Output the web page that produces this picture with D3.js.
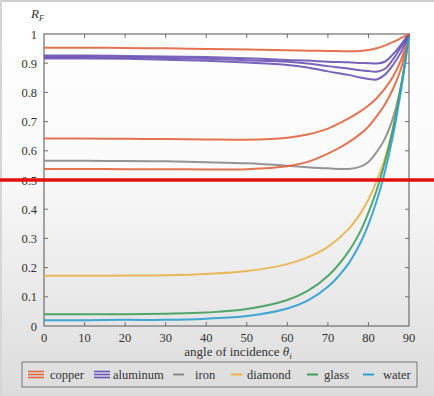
<!DOCTYPE html>
<html>
<head>
<meta charset="utf-8">
<script src="https://cdn.jsdelivr.net/npm/d3@7"></script>
<style>
  body { margin: 0; background: #fff; }
</style>
</head>
<body>
<script>
// angles where I read the curves off the figure
const angles = [0, 10, 20, 30, 40, 50, 60, 65, 70, 75, 78, 80, 82, 84, 86, 88, 89, 90];

// copper (three channels)
const copperR = [0.953, 0.953, 0.952, 0.951, 0.949, 0.947, 0.944, 0.943, 0.942, 0.941, 0.942, 0.945, 0.951, 0.960, 0.972, 0.986, 0.993, 1];
const copperG = [0.642, 0.642, 0.641, 0.640, 0.639, 0.638, 0.645, 0.656, 0.676, 0.710, 0.735, 0.755, 0.780, 0.812, 0.853, 0.910, 0.950, 1];
const copperB = [0.538, 0.538, 0.537, 0.537, 0.536, 0.537, 0.547, 0.562, 0.590, 0.628, 0.658, 0.683, 0.718, 0.758, 0.810, 0.880, 0.935, 1];
// aluminum
const aluminumR = [0.926, 0.926, 0.925, 0.923, 0.921, 0.917, 0.911, 0.909, 0.905, 0.903, 0.901, 0.900, 0.899, 0.905, 0.930, 0.963, 0.982, 1];
const aluminumG = [0.921, 0.921, 0.920, 0.918, 0.915, 0.910, 0.905, 0.899, 0.890, 0.882, 0.876, 0.873, 0.871, 0.880, 0.912, 0.955, 0.977, 1];
const aluminumB = [0.916, 0.916, 0.915, 0.912, 0.908, 0.902, 0.894, 0.885, 0.872, 0.860, 0.851, 0.846, 0.844, 0.860, 0.893, 0.937, 0.967, 1];
// iron
const iron = [0.566, 0.566, 0.565, 0.564, 0.561, 0.557, 0.549, 0.544, 0.540, 0.538, 0.546, 0.562, 0.595, 0.640, 0.710, 0.820, 0.900, 1];
// dielectrics
const diamond = [0.172, 0.172, 0.173, 0.174, 0.178, 0.188, 0.212, 0.235, 0.271, 0.331, 0.385, 0.433, 0.495, 0.572, 0.675, 0.814, 0.900, 1];
const glass = [0.040, 0.040, 0.040, 0.042, 0.046, 0.058, 0.089, 0.120, 0.171, 0.253, 0.324, 0.388, 0.464, 0.557, 0.672, 0.819, 0.904, 1];
const water = [0.020, 0.020, 0.021, 0.021, 0.025, 0.034, 0.060, 0.087, 0.134, 0.212, 0.284, 0.348, 0.427, 0.525, 0.648, 0.804, 0.896, 1];

const xTicks = [0, 10, 20, 30, 40, 50, 60, 70, 80, 90];
const yTicks = [0, 0.1, 0.2, 0.3, 0.4, 0.5, 0.6, 0.7, 0.8, 0.9, 1];
const legendNames = ["copper", "aluminum", "iron", "diamond", "glass", "water"];

const colors = {
  copper: "#e2643f",
  aluminum: "#6a52b4",
  iron: "#8a8a8a",
  diamond: "#e9b24a",
  glass: "#3f9e5c",
  water: "#2b9fd2"
};

const series = [
  { name: "iron", values: iron },
  { name: "copper", values: copperB },
  { name: "copper", values: copperG },
  { name: "diamond", values: diamond },
  { name: "glass", values: glass },
  { name: "water", values: water },
  { name: "aluminum", values: aluminumB },
  { name: "aluminum", values: aluminumG },
  { name: "aluminum", values: aluminumR },
  { name: "copper", values: copperR }
];

var width = 434;
var height = 396;
var SERIF = '"Liberation Serif"';

var svg = d3.select('body').append('svg')
  .attr('width', width)
  .attr('height', height);

// small helper so every label gets the serif face and colour
function label(sel, size) {
  return sel.style('font-family', SERIF)
    .attr('font-size', size)
    .attr('fill', '#333');
}

// video-frame background: white fading to grey at the bottom
var grad = svg.append('defs').append('linearGradient')
  .attr('id', 'bg').attr('x1', 0).attr('y1', 0).attr('x2', 0).attr('y2', 1);
grad.append('stop').attr('offset', '0').attr('stop-color', '#ffffff');
grad.append('stop').attr('offset', '0.4').attr('stop-color', '#fbfbfb');
grad.append('stop').attr('offset', '1').attr('stop-color', '#dcdcdc');

svg.append('rect').attr('width', width).attr('height', height).attr('fill', 'url(#bg)');
svg.append('rect').attr('width', width).attr('height', 2).attr('fill', '#cfcfcf');
svg.append('rect').attr('width', 2).attr('height', height).attr('fill', '#d6d6d6');

var x = d3.scaleLinear().domain([0, 90]).range([44, 409]);
var y = d3.scaleLinear().domain([0, 1]).range([326, 34]);

// frame with inward ticks on all four sides
var frame = svg.append('g').attr('stroke', '#6e6e6e').attr('fill', 'none');
frame.append('rect')
  .attr('x', x(0)).attr('y', y(1))
  .attr('width', x(90) - x(0)).attr('height', y(0) - y(1))
  .attr('stroke-width', 1.2);

frame.selectAll('.tb').data(xTicks.slice(1, -1)).enter().append('path')
  .attr('d', function(d) {
    return 'M' + x(d) + ',' + y(0) + 'v-4M' + x(d) + ',' + y(1) + 'v4';
  });
frame.selectAll('.lr').data(yTicks.slice(1, -1)).enter().append('path')
  .attr('d', function(d) {
    return 'M' + x(0) + ',' + y(d) + 'h4M' + x(90) + ',' + y(d) + 'h-4';
  });

// tick labels
label(svg.selectAll('.xl').data(xTicks).enter().append('text'), 12.5)
  .attr('x', function(d) { return x(d); })
  .attr('y', 342)
  .attr('text-anchor', 'middle')
  .text(function(d) { return d; });

label(svg.selectAll('.yl').data(yTicks).enter().append('text'), 12.5)
  .attr('x', 37)
  .attr('y', function(d) { return y(d) + 4.5; })
  .attr('text-anchor', 'end')
  .text(function(d) { return d === 0 || d === 1 ? d : d.toFixed(1); });

// axis titles
var xt = label(svg.append('text'), 13)
  .attr('x', 238).attr('y', 356)
  .attr('text-anchor', 'middle');
xt.append('tspan').text('angle of incidence ');
xt.append('tspan').attr('font-style', 'italic').text('θ');
xt.append('tspan').attr('font-style', 'italic').attr('font-size', 9).attr('dy', 3).text('i');

var yt = label(svg.append('text'), 13).attr('x', 31).attr('y', 18);
yt.append('tspan').attr('font-style', 'italic').text('R');
yt.append('tspan').attr('font-style', 'italic').attr('font-size', 8).attr('dy', 3).text('F');

// curves
var line = d3.line()
  .x(function(d, i) { return x(angles[i]); })
  .y(function(d) { return y(d); })
  .curve(d3.curveCatmullRom.alpha(0.5));

svg.append('g').selectAll('path').data(series).enter().append('path')
  .attr('d', function(d) { return line(d.values); })
  .attr('fill', 'none')
  .attr('stroke', function(d) { return colors[d.name]; })
  .attr('stroke-width', 2)
  .attr('stroke-opacity', 0.9);

// legend
var legend = svg.append('g');
legend.append('rect')
  .attr('x', 22).attr('y', 362).attr('width', 395).attr('height', 25)
  .attr('fill', 'none').attr('stroke', '#777').attr('stroke-width', 1);

var swatchX = [28, 94, 173, 231, 307, 363];
var textX = [50, 113, 195, 247, 324, 383];
var items = legend.selectAll('.item').data(legendNames).enter().append('g')
  .attr('transform', 'translate(0,374.5)');

items.each(function(d, i) {
  var g = d3.select(this);
  var multi = d === 'copper' || d === 'aluminum';
  var swW = multi ? 16 : 11;
  var offs = multi ? [-3, 0, 3] : [0];
  offs.forEach(function(o) {
    g.append('line')
      .attr('x1', swatchX[i]).attr('x2', swatchX[i] + swW)
      .attr('y1', o).attr('y2', o)
      .attr('stroke', colors[d]).attr('stroke-width', multi ? 1.6 : 2);
  });
  label(g.append('text'), 12.5)
    .attr('x', textX[i]).attr('y', 4.5)
    .text(d);
});

// red marker line drawn across the frame
svg.append('line')
  .attr('x1', 0).attr('x2', width)
  .attr('y1', y(0.5)).attr('y2', y(0.5))
  .attr('stroke', '#e3100e').attr('stroke-width', 3.5);
</script>
</body>
</html>
